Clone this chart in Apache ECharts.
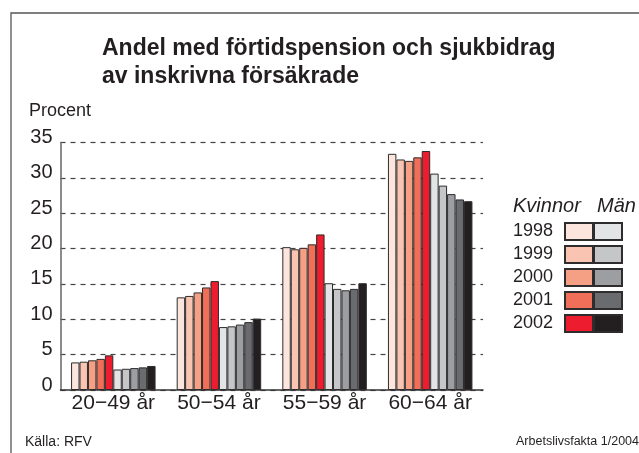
<!DOCTYPE html>
<html>
<head>
<meta charset="utf-8">
<style>
  html, body { margin: 0; padding: 0; background: #fff; }
  #chart { width: 639px; height: 453px; }
</style>
<script src="https://cdn.jsdelivr.net/npm/echarts@6/dist/echarts.min.js"></script>
</head>
<body>
<div id="chart"></div>
<script>
// åldersgrupper
const categories = ['20−49 år', '50−54 år', '55−59 år', '60−64 år'];
const years = ['1998', '1999', '2000', '2001', '2002'];
const yTicks = [0, 35, 5]; // min, max, steg

// andel (procent) kvinnor per år
const kvinnor1998 = [3.9, 13.1, 20.2, 33.4];
const kvinnor1999 = [4.0, 13.3, 19.9, 32.6];
const kvinnor2000 = [4.2, 13.8, 20.1, 32.4];
const kvinnor2001 = [4.4, 14.5, 20.6, 32.9];
const kvinnor2002 = [4.9, 15.4, 22.0, 33.8];
// andel (procent) män per år
const man1998 = [2.9, 8.9, 15.1, 30.6];
const man1999 = [3.0, 9.0, 14.3, 28.9];
const man2000 = [3.1, 9.25, 14.1, 27.7];
const man2001 = [3.2, 9.6, 14.3, 26.95];
const man2002 = [3.4, 10.1, 15.1, 26.7];

const kvinnorData = [kvinnor1998, kvinnor1999, kvinnor2000, kvinnor2001, kvinnor2002];
const manData = [man1998, man1999, man2000, man2001, man2002];

const kvinnorColors = ['#fce5dc', '#f9c5b2', '#f59f85', '#f06f58', '#ed1c2e'];
const manColors = ['#e3e4e5', '#c5c6c8', '#9d9ea1', '#6a6b6e', '#231f20'];

const font = 'Liberation Sans';
const textColor = '#231f20';

const chart = echarts.init(document.getElementById('chart'), null, { renderer: 'canvas' });

function barSeries(prefix, data, colors) {
  return data.map(function (values, i) {
    return {
      name: prefix + ' ' + years[i],
      type: 'bar',
      data: values,
      barGap: '0%',
      barCategoryGap: '20%',
      itemStyle: { color: colors[i], borderColor: '#2e2c2c', borderWidth: 1 },
      emphasis: { disabled: true }
    };
  });
}

const series = barSeries('Kvinnor', kvinnorData, kvinnorColors)
  .concat(barSeries('Män', manData, manColors));

// gemensamma inställningar för de två legenderna
const legendBase = {
  orient: 'vertical', top: 222, padding: 0,
  itemWidth: 28, itemHeight: 17, itemGap: 4,
  icon: 'rect', selectedMode: false
};

const option = {
  animation: false,
  textStyle: { fontFamily: font },
  title: [
    {
      text: 'Andel med förtidspension och sjukbidrag\nav inskrivna försäkrade',
      left: 102, top: 35, padding: 0,
      textStyle: { fontFamily: font, fontSize: 23, fontWeight: 'bold', lineHeight: 28, color: textColor }
    },
    {
      text: 'Procent', left: 29, top: 102, padding: 0,
      textStyle: { fontFamily: font, fontSize: 18, fontWeight: 'normal', color: textColor }
    },
    {
      text: 'Kvinnor', left: 513, top: 196, padding: 0,
      textStyle: { fontFamily: font, fontSize: 20, fontStyle: 'italic', fontWeight: 'normal', color: textColor }
    },
    {
      text: 'Män', left: 597, top: 196, padding: 0,
      textStyle: { fontFamily: font, fontSize: 20, fontStyle: 'italic', fontWeight: 'normal', color: textColor }
    },
    {
      text: 'Källa: RFV', left: 25, top: 435, padding: 0,
      textStyle: { fontFamily: font, fontSize: 14, fontWeight: 'normal', color: textColor }
    },
    {
      text: 'Arbetslivsfakta 1/2004', right: 0, top: 435, padding: 0,
      textStyle: { fontFamily: font, fontSize: 12.5, fontWeight: 'normal', color: textColor }
    }
  ],
  legend: [
    Object.assign({}, legendBase, {
      // kvinnor: årtal + ruta
      data: series.slice(0, 5).map(function (s) { return s.name; }),
      left: 513, align: 'right',
      formatter: function (name) { return '{y|' + name.split(' ')[1] + '}'; },
      textStyle: {
        rich: { y: { fontFamily: font, fontSize: 18, color: textColor, width: 47, lineHeight: 17, align: 'left' } }
      }
    }),
    Object.assign({}, legendBase, {
      // män: bara ruta
      data: series.slice(5).map(function (s) { return s.name; }),
      left: 593, align: 'left',
      formatter: function () { return ''; },
      textStyle: { fontSize: 10, lineHeight: 10 }
    })
  ],
  grid: { left: 60.5, right: 156, top: 142.5, bottom: 63, containLabel: false },
  xAxis: {
    type: 'category',
    data: categories,
    axisLine: { lineStyle: { color: '#333', width: 1.5 } },
    axisTick: { show: false },
    axisLabel: { fontFamily: font, fontSize: 21, color: textColor, margin: 3, interval: 0 }
  },
  yAxis: {
    type: 'value',
    min: yTicks[0], max: yTicks[1], interval: yTicks[2],
    axisLine: { show: true, lineStyle: { color: '#666', width: 1.5 } },
    axisTick: { show: false },
    axisLabel: {
      fontFamily: font, fontSize: 20, color: textColor, margin: 8,
      verticalAlign: 'bottom', lineHeight: 10
    },
    splitLine: { show: true, lineStyle: { color: '#444', width: 1.2, type: [5, 5] } }
  },
  graphic: [
    {
      type: 'polyline',
      shape: { points: [[639, 13], [11, 13], [11, 453]] },
      style: { stroke: '#555', lineWidth: 1.3, fill: null },
      silent: true
    }
  ],
  series: series
};

chart.setOption(option);
</script>
</body>
</html>
